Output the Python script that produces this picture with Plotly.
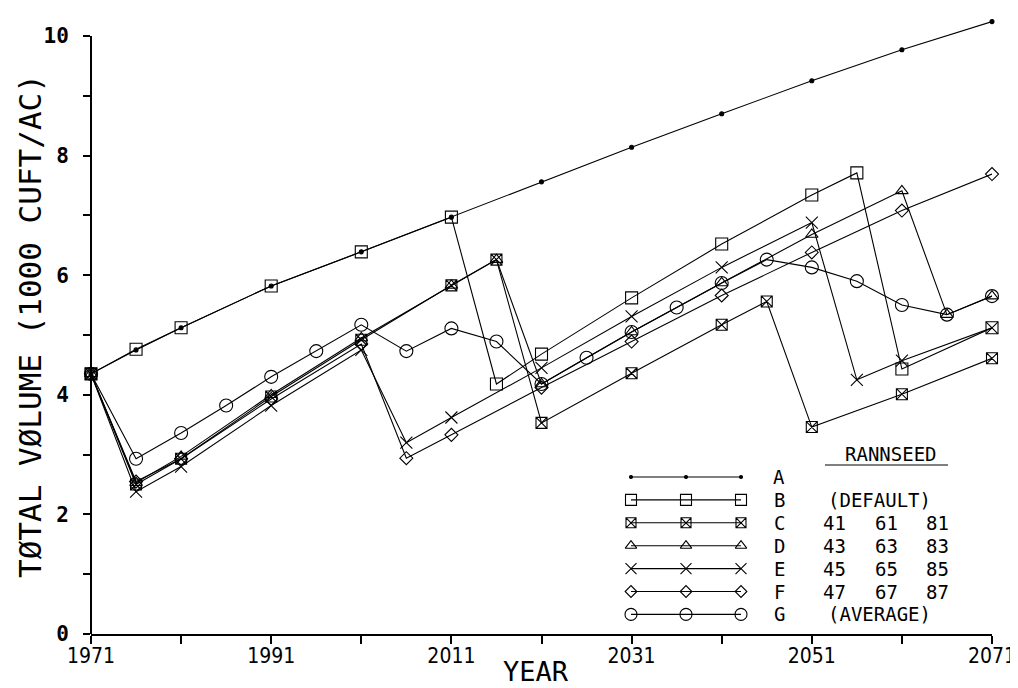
import plotly.graph_objects as go

# ---------------- data ----------------
years_A = [1971, 1976, 1981, 1991, 2001, 2011, 2021, 2031, 2041, 2051, 2061, 2071]
vol_A = [4.35, 4.75, 5.12, 5.82, 6.39, 6.97, 7.56, 8.14, 8.70, 9.25, 9.77, 10.24]

years_B = [1971, 1976, 1981, 1991, 2001, 2011, 2016, 2021, 2031, 2041, 2051, 2056, 2061, 2071]
vol_B = [4.35, 4.76, 5.12, 5.82, 6.39, 6.97, 4.18, 4.68, 5.62, 6.52, 7.34, 7.71, 4.43, 5.12]

years_C = [1971, 1976, 1981, 1991, 2001, 2011, 2016, 2021, 2031, 2041, 2046, 2051, 2061, 2071]
vol_C = [4.35, 2.50, 2.93, 3.97, 4.92, 5.83, 6.26, 3.53, 4.36, 5.17, 5.56, 3.46, 4.01, 4.61]

years_D = [1971, 1976, 1981, 1991, 2001, 2011, 2016, 2021, 2031, 2041, 2051, 2061, 2066, 2071]
vol_D = [4.35, 2.53, 2.97, 4.00, 4.95, 5.83, 6.26, 4.18, 5.05, 5.87, 6.68, 7.41, 5.34, 5.65]

years_E = [1971, 1976, 1981, 1991, 2001, 2006, 2011, 2021, 2031, 2041, 2051, 2056, 2061, 2071]
vol_E = [4.35, 2.38, 2.80, 3.82, 4.75, 3.20, 3.62, 4.45, 5.31, 6.13, 6.88, 4.25, 4.57, 5.12]

years_F = [1971, 1976, 1981, 1991, 2001, 2006, 2011, 2021, 2031, 2041, 2051, 2061, 2071]
vol_F = [4.35, 2.55, 2.93, 3.93, 4.85, 2.94, 3.33, 4.12, 4.89, 5.66, 6.38, 7.08, 7.69]

years_G = [1971, 1976, 1981, 1986, 1991, 1996, 2001, 2006, 2011, 2016, 2021,
           2026, 2031, 2036, 2041, 2046, 2051, 2056, 2061, 2066, 2071]
vol_G = [4.35, 2.93, 3.36, 3.82, 4.30, 4.73, 5.17, 4.73, 5.11, 4.89, 4.18,
         4.62, 5.05, 5.46, 5.87, 6.26, 6.13, 5.90, 5.50, 5.34, 5.65]

series_names = ["A", "B", "C", "D", "E", "F", "G"]
seed_rows = ["", "(DEFAULT)", ["41", "61", "81"], ["43", "63", "83"],
             ["45", "65", "85"], ["47", "67", "87"], "(AVERAGE)"]
x_tick_labels = ["1971", "1991", "2011", "2031", "2051", "2071"]
y_tick_labels = ["0", "2", "4", "6", "8", "10"]

# ---------------- style ----------------
INK = "black"
styles = {
    "A": dict(symbol="circle", size=4),
    "B": dict(symbol="square-open", size=12),
    "C": dict(symbol="square-x-open", size=11),
    "D": dict(symbol="triangle-up-open", size=11),
    "E": dict(symbol="x-thin-open", size=12),
    "F": dict(symbol="diamond-open", size=10),
    "G": dict(symbol="circle-open", size=13),
}
data = {
    "A": (years_A, vol_A), "B": (years_B, vol_B), "C": (years_C, vol_C),
    "D": (years_D, vol_D), "E": (years_E, vol_E), "F": (years_F, vol_F),
    "G": (years_G, vol_G),
}

W, H = 1018, 688
ML, MR, MT, MB = 83, 34, 10, 62
PW, PH = W - ML - MR, H - MT - MB
Y_TOP = 10.3  # headroom so line A can rise above the last tick

def px(x):
    return (x - ML) / PW

def py(y):
    return 1 - (y - MT) / PH

fig = go.Figure()
for name in series_names:
    xs, ys = data[name]
    st = styles[name]
    fig.add_trace(go.Scatter(
        x=xs, y=ys, mode="lines+markers", name=name, showlegend=False,
        cliponaxis=False,
        line=dict(color=INK, width=1.1),
        marker=dict(symbol=st["symbol"], size=st["size"], color=INK,
                    line=dict(color=INK, width=1.1)),
    ))

# ---------------- custom legend (overlay pixel axes) ----------------
leg_x = [623, 678, 733]
leg_y0, leg_dy = 469, 22.9
for i, name in enumerate(series_names):
    st = styles[name]
    yy = leg_y0 + i * leg_dy
    fig.add_trace(go.Scatter(
        x=leg_x, y=[yy] * 3, xaxis="x2", yaxis="y2", mode="lines+markers",
        showlegend=False, hoverinfo="skip", cliponaxis=False,
        line=dict(color=INK, width=1.1),
        marker=dict(symbol=st["symbol"], size=st["size"] - 1, color=INK,
                    line=dict(color=INK, width=1.1)),
    ))

TXT = dict(family="DejaVu Sans Mono, monospace", color=INK)
ann = []
for i, name in enumerate(series_names):
    yy = leg_y0 + i * leg_dy
    ann.append(dict(x=px(771), y=py(yy), xref="paper", yref="paper", text=name,
                    showarrow=False, xanchor="center", yanchor="middle",
                    font=dict(size=19, **TXT)))
    row = seed_rows[i]
    if isinstance(row, list):
        for cx, t in zip([826, 878, 929], row):
            ann.append(dict(x=px(cx), y=py(yy), xref="paper", yref="paper", text=t,
                            showarrow=False, xanchor="center", yanchor="middle",
                            font=dict(size=19, **TXT)))
    elif row:
        ann.append(dict(x=px(871), y=py(yy), xref="paper", yref="paper", text=row,
                        showarrow=False, xanchor="center", yanchor="middle",
                        font=dict(size=19, **TXT)))
ann.append(dict(x=px(883), y=py(446), xref="paper", yref="paper", text="RANNSEED",
                showarrow=False, xanchor="center", yanchor="middle",
                font=dict(size=19, **TXT)))
# axis titles
ann.append(dict(x=px(528), y=py(663), xref="paper", yref="paper", text="YEAR",
                showarrow=False, xanchor="center", yanchor="middle",
                font=dict(size=27, **TXT)))
ann.append(dict(x=px(22), y=py(318), xref="paper", yref="paper",
                text="TØTAL VØLUME (1000 CUFT/AC)", textangle=-90,
                showarrow=False, xanchor="center", yanchor="middle",
                font=dict(size=31, **TXT)))

shapes = [
    dict(type="line", xref="paper", yref="paper", x0=px(817), x1=px(940),
         y0=py(457), y1=py(457), line=dict(color=INK, width=1.2)),
    # y axis line, running from 0 up to the top tick only
    dict(type="line", xref="paper", yref="y", x0=0, x1=0, y0=0, y1=10,
         line=dict(color=INK, width=2)),
]

fig.update_layout(
    width=W, height=H,
    margin=dict(l=ML, r=MR, t=MT, b=MB),
    paper_bgcolor="white", plot_bgcolor="white",
    showlegend=False,
    annotations=ann, shapes=shapes,
    xaxis=dict(
        range=[1971, 2071], tickmode="array",
        tickvals=[int(t) for t in x_tick_labels], ticktext=x_tick_labels,
        ticks="outside", ticklen=8, tickwidth=1.5, tickcolor=INK,
        minor=dict(dtick=10, tick0=1971, ticks="outside", ticklen=8,
                   tickwidth=1.5, tickcolor=INK, showgrid=False),
        showline=True, linecolor=INK, linewidth=2, showgrid=False, zeroline=False,
        tickfont=dict(family="DejaVu Sans Condensed, DejaVu Sans", size=21, color=INK),
        ticklabelstandoff=-6,
    ),
    yaxis=dict(
        range=[0, Y_TOP], tickmode="array",
        tickvals=[float(t) for t in y_tick_labels], ticktext=y_tick_labels,
        ticks="outside", ticklen=7, tickwidth=1.5, tickcolor=INK,
        minor=dict(dtick=1, ticks="outside", ticklen=7, tickwidth=1.5,
                   tickcolor=INK, showgrid=False),
        showline=False, showgrid=False, zeroline=False,
        tickfont=dict(family="DejaVu Sans Mono", size=21, color=INK, weight="bold"),
        ticklabelstandoff=10,
    ),
    xaxis2=dict(overlaying="x", anchor="y2", range=[ML, W - MR], visible=False,
                fixedrange=True),
    yaxis2=dict(overlaying="y", anchor="x2", range=[H - MB, MT], visible=False,
                fixedrange=True),
)

fig.write_html("out.html")
